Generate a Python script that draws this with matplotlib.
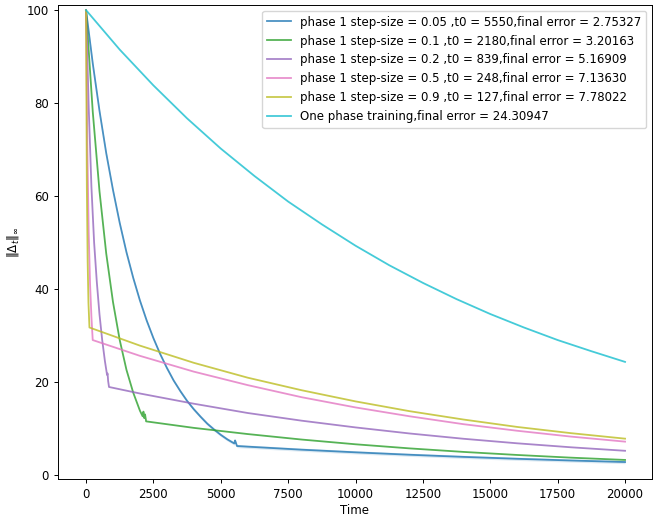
import numpy as np
import matplotlib
matplotlib.use('Agg')
import matplotlib.pyplot as plt

# values
t_005 = [0, 250, 500, 750, 1000, 1250, 1500, 1750, 2000, 2250, 2500, 2750, 3000, 3250, 3500,
         3750, 4000, 4250, 4500, 4750, 5000, 5250, 5500, 5530, 5560, 5600,
         6000, 8000, 10000, 12000, 14000, 16000, 18000, 20000]
e_005 = [100, 88.5, 78.3, 69.2, 61.3, 54.2, 47.9, 42.4, 37.5, 33.2, 29.4, 26.0, 23.0, 20.3, 18.0,
         15.9, 14.1, 12.5, 11.0, 9.75, 8.6, 7.6, 6.75, 7.4, 6.9, 6.2,
         6.06, 5.41, 4.84, 4.32, 3.86, 3.45, 3.08, 2.75]

t_01 = [0, 250, 500, 750, 1000, 1250, 1500, 1750, 2000, 2100, 2130, 2160, 2190, 2230,
        4000, 6000, 8000, 10000, 12000, 14000, 16000, 18000, 20000]
e_01 = [100, 78.1, 61.0, 47.6, 37.2, 29.0, 22.6, 17.7, 13.8, 12.6, 13.6, 12.2, 13.0, 11.5,
        10.1, 8.77, 7.59, 6.57, 5.69, 4.93, 4.27, 3.69, 3.20]

t_02 = [0, 100, 200, 300, 400, 500, 600, 700, 780, 800, 820, 853,
        2000, 4000, 6000, 8000, 10000, 12000, 14000, 16000, 18000, 20000]
e_02 = [100, 79, 62, 50, 41.5, 34.5, 29, 24.5, 21.5, 21.8, 20.2, 18.9,
        17.5, 15.3, 13.3, 11.65, 10.2, 8.9, 7.76, 6.78, 5.92, 5.17]

t_05 = [0, 50, 100, 150, 200, 248, 2000, 4000, 6000, 8000, 10000, 12000, 14000, 16000, 18000, 20000]
e_05 = [100, 70, 52, 41, 34, 29.0, 25.6, 22.2, 19.3, 16.7, 14.5, 12.6, 10.9, 9.48, 8.22, 7.14]

t_09 = [0, 30, 60, 90, 127, 2000, 4000, 6000, 8000, 10000, 12000, 14000, 16000, 18000, 20000]
e_09 = [100, 62, 46, 37, 31.7, 27.8, 24.1, 20.9, 18.2, 15.8, 13.7, 11.9, 10.3, 8.96, 7.78]

t_one = [0, 1250, 2500, 3750, 5000, 6250, 7500, 8750, 10000, 11250, 12500, 13750, 15000,
         16250, 17500, 18750, 20000]
e_one = [100, 91.5, 83.8, 76.7, 70.2, 64.3, 58.8, 53.9, 49.3, 45.1, 41.3, 37.8, 34.6,
         31.7, 29.0, 26.6, 24.3]

labels = ['phase 1 step-size = 0.05 ,t0 = 5550,final error = 2.75327',
          'phase 1 step-size = 0.1 ,t0 = 2180,final error = 3.20163',
          'phase 1 step-size = 0.2 ,t0 = 839,final error = 5.16909',
          'phase 1 step-size = 0.5 ,t0 = 248,final error = 7.13630',
          'phase 1 step-size = 0.9 ,t0 = 127,final error = 7.78022',
          'One phase training,final error = 24.30947']

plt.rcParams['font.size'] = 8.5
plt.rcParams['axes.linewidth'] = 0.7

fig = plt.figure(figsize=(6.63, 5.17), dpi=100)
ax = fig.add_axes([58/663, 38/517, 594/663, 474/517])

series = [(t_005, e_005, 'tab:blue'), (t_01, e_01, 'tab:green'), (t_02, e_02, 'tab:purple'),
          (t_05, e_05, 'tab:pink'), (t_09, e_09, 'tab:olive'), (t_one, e_one, 'tab:cyan')]
for (t, e, c), lab in zip(series, labels):
    ax.plot(t, e, color=c, alpha=0.8, lw=1.3, label=lab)

# faint noise band round the blue run
b = np.array(e_005)
ax.fill_between(t_005, b - 0.35, b + 0.35, color='tab:blue', alpha=0.15, lw=0)

ax.set_xlim(-1040, 21000)
ax.set_ylim(-0.9, 101.1)
ax.tick_params(width=0.7, length=3)
ax.set_xlabel('Time', labelpad=2)
ax.set_ylabel(r'$\|\Delta_t\|_\infty$')
ax.legend(loc='upper right')
fig.savefig('out.png', dpi=100)
